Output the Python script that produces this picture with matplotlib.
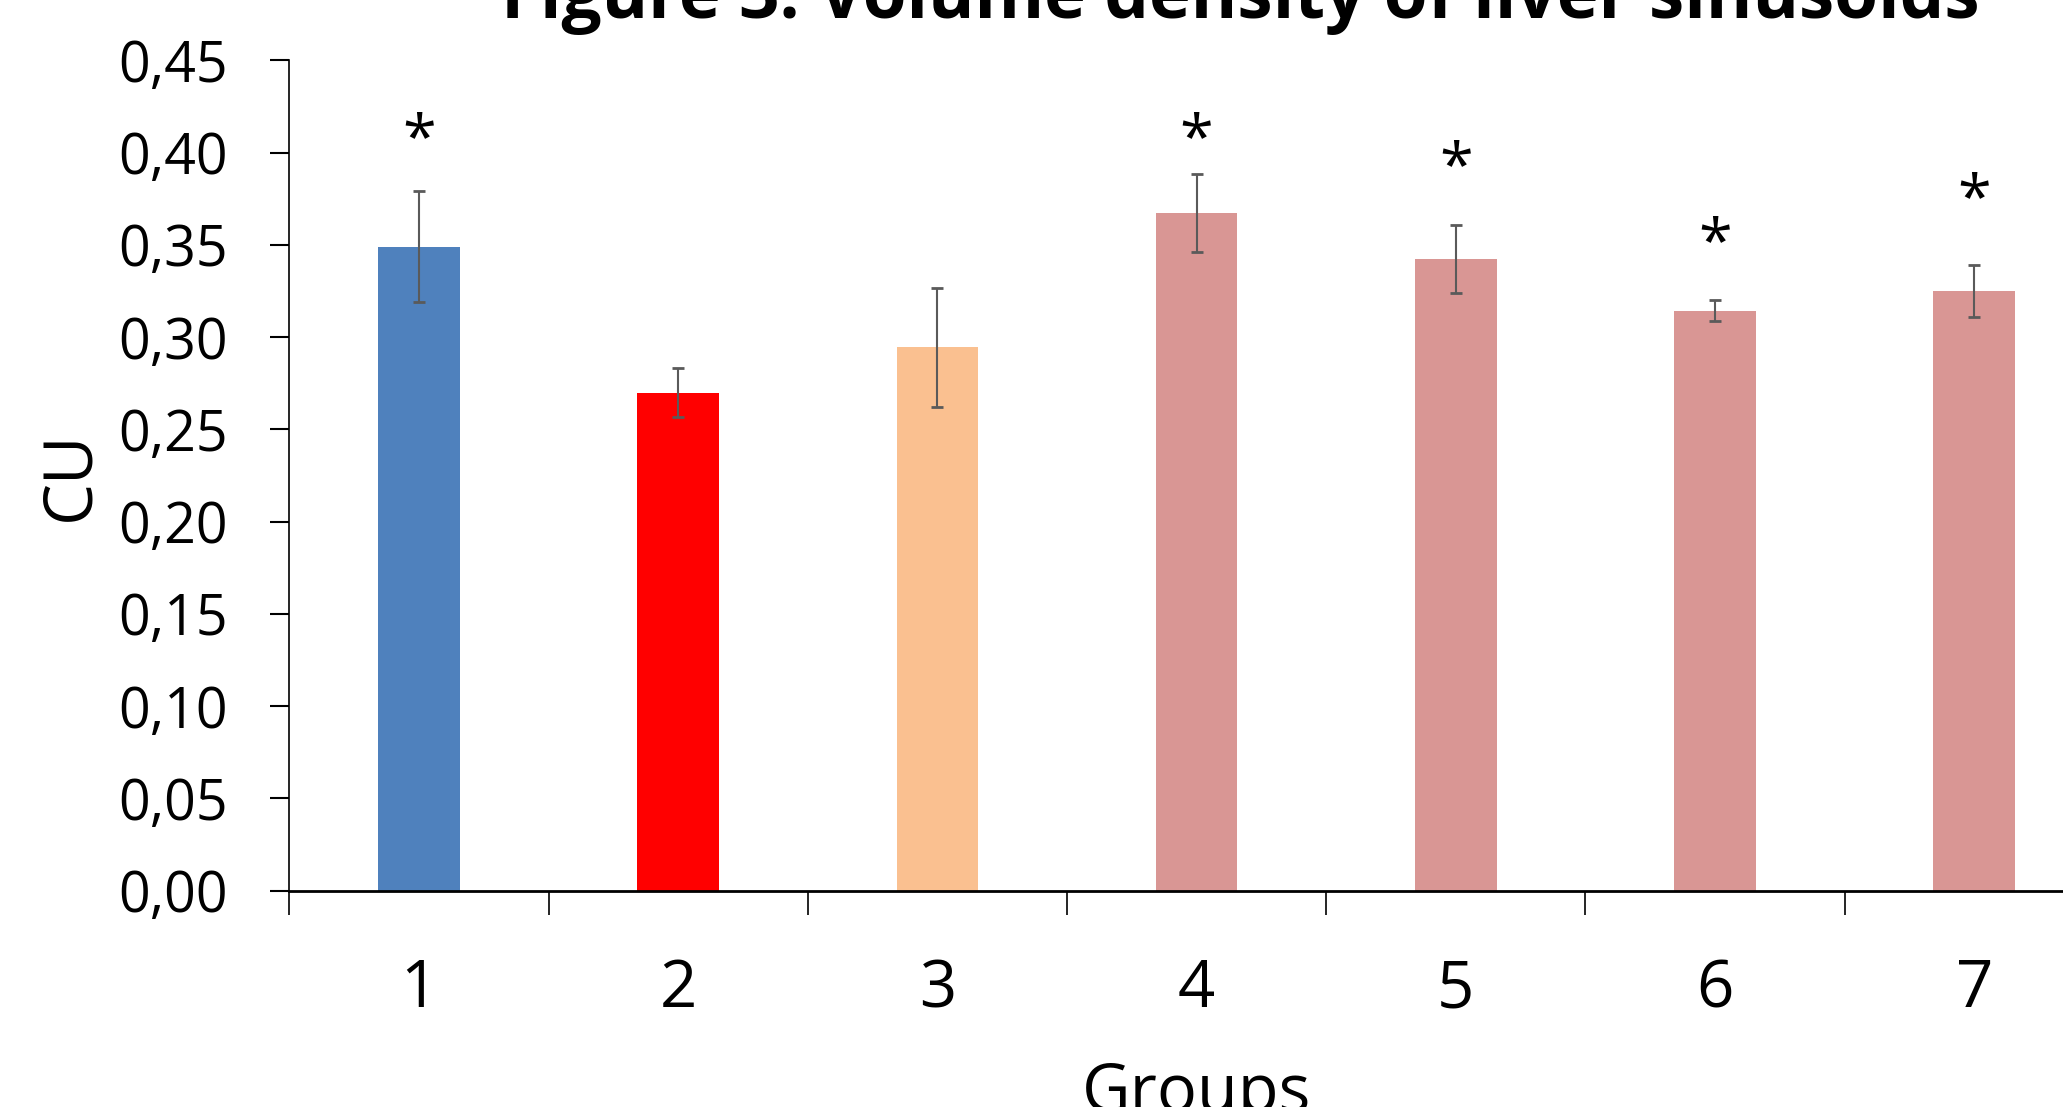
import numpy as np
import matplotlib
matplotlib.use("Agg")
import matplotlib.pyplot as plt

plt.rcParams['font.family'] = ['Open Sans', 'DejaVu Sans']

# data
groups = ['1', '2', '3', '4', '5', '6', '7']
means = [0.349, 0.270, 0.2945, 0.3674, 0.3424, 0.3144, 0.3248]
errors = [0.030, 0.0134, 0.0323, 0.0212, 0.0185, 0.0057, 0.0141]
bar_colors = ['#4F81BD', '#FF0000', '#FAC090', '#D99694', '#D99694', '#D99694', '#D99694']
# significance marks: group index and height of the star centre
star_groups = [0, 3, 4, 5, 6]
star_heights = [0.415, 0.415, 0.3995, 0.3587, 0.3822]
yticks = [0.00, 0.05, 0.10, 0.15, 0.20, 0.25, 0.30, 0.35, 0.40, 0.45]

fig = plt.figure(figsize=(20.63, 11.07), dpi=100)
ax = fig.add_axes([0.1403, 0.1954, 0.8795, 0.75])

x = np.arange(len(groups))
ax.bar(x, means, width=0.315, color=bar_colors, zorder=2)
ax.errorbar(x, means, yerr=errors, fmt='none', ecolor='#5A5A5A',
            elinewidth=1.5, capsize=4.5, capthick=2, zorder=3)

for g, h in zip(star_groups, star_heights):
    ax.annotate('*', (g, h), xytext=(0, -23), textcoords='offset points',
                ha='center', va='baseline', fontsize=44)

ax.set_xlim(-0.5, len(groups) - 0.5)
ax.set_ylim(0, 0.45)

ax.set_yticks(yticks)
ax.set_yticklabels([f'{v:.2f}'.replace('.', ',') for v in yticks])
ax.tick_params(axis='y', length=14, width=1.5, pad=30, labelsize=40)

# category boundaries as major ticks, labels on minor ticks at the centres
ax.set_xticks(np.arange(len(groups) + 1) - 0.5)
ax.set_xticklabels([])
ax.set_xticks(x, minor=True)
ax.set_xticklabels(groups, minor=True)
ax.tick_params(axis='x', which='major', length=17, width=1.2)
ax.tick_params(axis='x', which='minor', length=0, pad=48, labelsize=47)

for s in ['top', 'right']:
    ax.spines[s].set_visible(False)
ax.spines['left'].set_linewidth(1.2)
ax.spines['bottom'].set_linewidth(2)
ax.spines['bottom'].set_zorder(4)

ax.set_ylabel('CU', fontsize=48, labelpad=10)
ax.set_xlabel('Groups', fontsize=48, labelpad=27)

fig.text(1240, 1107 - 18, 'Figure 3. Volume density of liver sinusoids',
         transform=None, ha='center', va='baseline',
         fontsize=51, fontweight='bold')

fig.savefig('out.png', dpi=100)
